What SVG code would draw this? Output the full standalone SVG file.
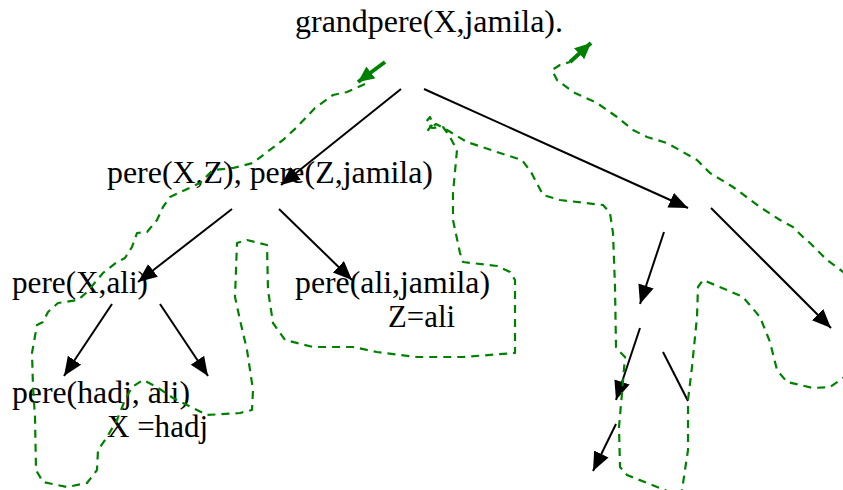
<svg xmlns="http://www.w3.org/2000/svg" width="843" height="490" viewBox="0 0 843 490">
<style>
.t{font-family:"Liberation Serif","Times New Roman",serif;font-size:32px;fill:#000}
.e{stroke:#000;stroke-width:2;fill:none}
.g{stroke:#008000;stroke-width:2.2;fill:none;stroke-dasharray:8 6;stroke-linejoin:round}
.ga{stroke:#008000;stroke-width:4;fill:none}
</style>
<defs>
<marker id="ah" markerUnits="userSpaceOnUse" markerWidth="20" markerHeight="18" refX="19" refY="8" orient="auto">
<path d="M0,0 L19,8 L0,16 Z" fill="#000"/>
</marker>
<marker id="gh" markerUnits="userSpaceOnUse" markerWidth="18" markerHeight="16" refX="16" refY="7.5" orient="auto">
<path d="M0,0 L16,7.5 L0,15 Z" fill="#008000"/>
</marker>
</defs>
<g id="n_root"><text class="t" x="295" y="32" textLength="268" lengthAdjust="spacingAndGlyphs">grandpere(X,jamila).</text></g>
<g id="n_conj"><text class="t" x="107" y="183" textLength="326" lengthAdjust="spacingAndGlyphs">pere(X,Z), pere(Z,jamila)</text></g>
<g id="n_pxali"><text class="t" x="12" y="293" textLength="136" lengthAdjust="spacingAndGlyphs">pere(X,ali)</text></g>
<g id="n_palij"><text class="t" x="295" y="293" textLength="195" lengthAdjust="spacingAndGlyphs">pere(ali,jamila)</text>
<text class="t" x="388" y="327" textLength="67" lengthAdjust="spacingAndGlyphs">Z=ali</text></g>
<g id="n_phadj"><text class="t" x="12" y="403" textLength="178" lengthAdjust="spacingAndGlyphs">pere(hadj, ali)</text>
<text class="t" x="107" y="437" textLength="101" lengthAdjust="spacingAndGlyphs">X =hadj</text></g>
<g id="connectors">
<line class="e" x1="401" y1="89" x2="281" y2="185" marker-end="url(#ah)"/>
<line class="e" x1="424" y1="89" x2="688" y2="208" marker-end="url(#ah)"/>
<line class="e" x1="232" y1="209" x2="138" y2="282" marker-end="url(#ah)"/>
<line class="e" x1="279" y1="209" x2="352" y2="280" marker-end="url(#ah)"/>
<line class="e" x1="112" y1="304" x2="64" y2="376" marker-end="url(#ah)"/>
<line class="e" x1="160" y1="304" x2="208" y2="376" marker-end="url(#ah)"/>
<line class="e" x1="711" y1="208" x2="831" y2="328" marker-end="url(#ah)"/>
<line class="e" x1="664" y1="232" x2="640" y2="304" marker-end="url(#ah)"/>
<line class="e" x1="640" y1="328" x2="616" y2="400" marker-end="url(#ah)"/>
<line class="e" x1="663" y1="352" x2="688" y2="401"/>
<line class="e" x1="616" y1="424" x2="593" y2="471" marker-end="url(#ah)"/>
</g>
<g id="trace">
<line class="ga" x1="385" y1="62" x2="358" y2="82" marker-end="url(#gh)"/>
<path class="g" d="M365,84 L347,92 L333,95 L315,108 L297,127 L283,140 L267,152 L253,163 L233,168 L213,170 L200,183 L170,197 L163,207 L157,220 L147,232 L137,233 L132,247 L125,258 L117,262 L103,273 L87,292 L78,300 L58,303 L48,312 L43,322 L37,325 L32,353 L33,387 L35,417 L36,470 L43,482 L67,487 L87,483 L97,470 L98,450 L107,437 L117,420 L125,400 L132,387 L143,380 L157,387 L173,398 L187,405 L207,415 L240,413 L252,410 L253,390 L247,350 L240,320 L235,297 L237,243 L247,240 L267,245 L268,290 L273,323 L285,340 L313,347 L353,347 L377,352 L417,357 L463,357 L515,353 L515,280 L510,272 L497,266 L463,262 L460,253 L453,220 L453,193 L457,150 L450,137 L443,127 L432,128 L426,122 L430,117 L433,124 L428,130 L436,124 L447,130 L467,142 L500,153 L522,160 L531,172 L543,195 L560,200 L603,205 L610,213 L613,233 L615,287 L616,347 L620,352 L625,357 L622,393 L619,427 L620,467 L627,475 L647,483 L665,490 L676,496 L682,490 L688,450 L688,400 L692,367 L697,317 L698,287 L703,280 L727,290 L743,297 L760,317 L770,342 L777,370 L787,382 L813,388 L830,387 L846,376"/>
<path class="g" d="M846,274 L827,260 L810,243 L803,237 L793,227 L780,220 L760,207 L733,187 L710,173 L697,160 L667,143 L647,137 L633,130 L617,117 L597,103 L573,92 L557,80 L552,70 L560,65 L570,62"/>
<line class="ga" x1="570" y1="62" x2="591" y2="43" marker-end="url(#gh)"/>
</g>
</svg>
